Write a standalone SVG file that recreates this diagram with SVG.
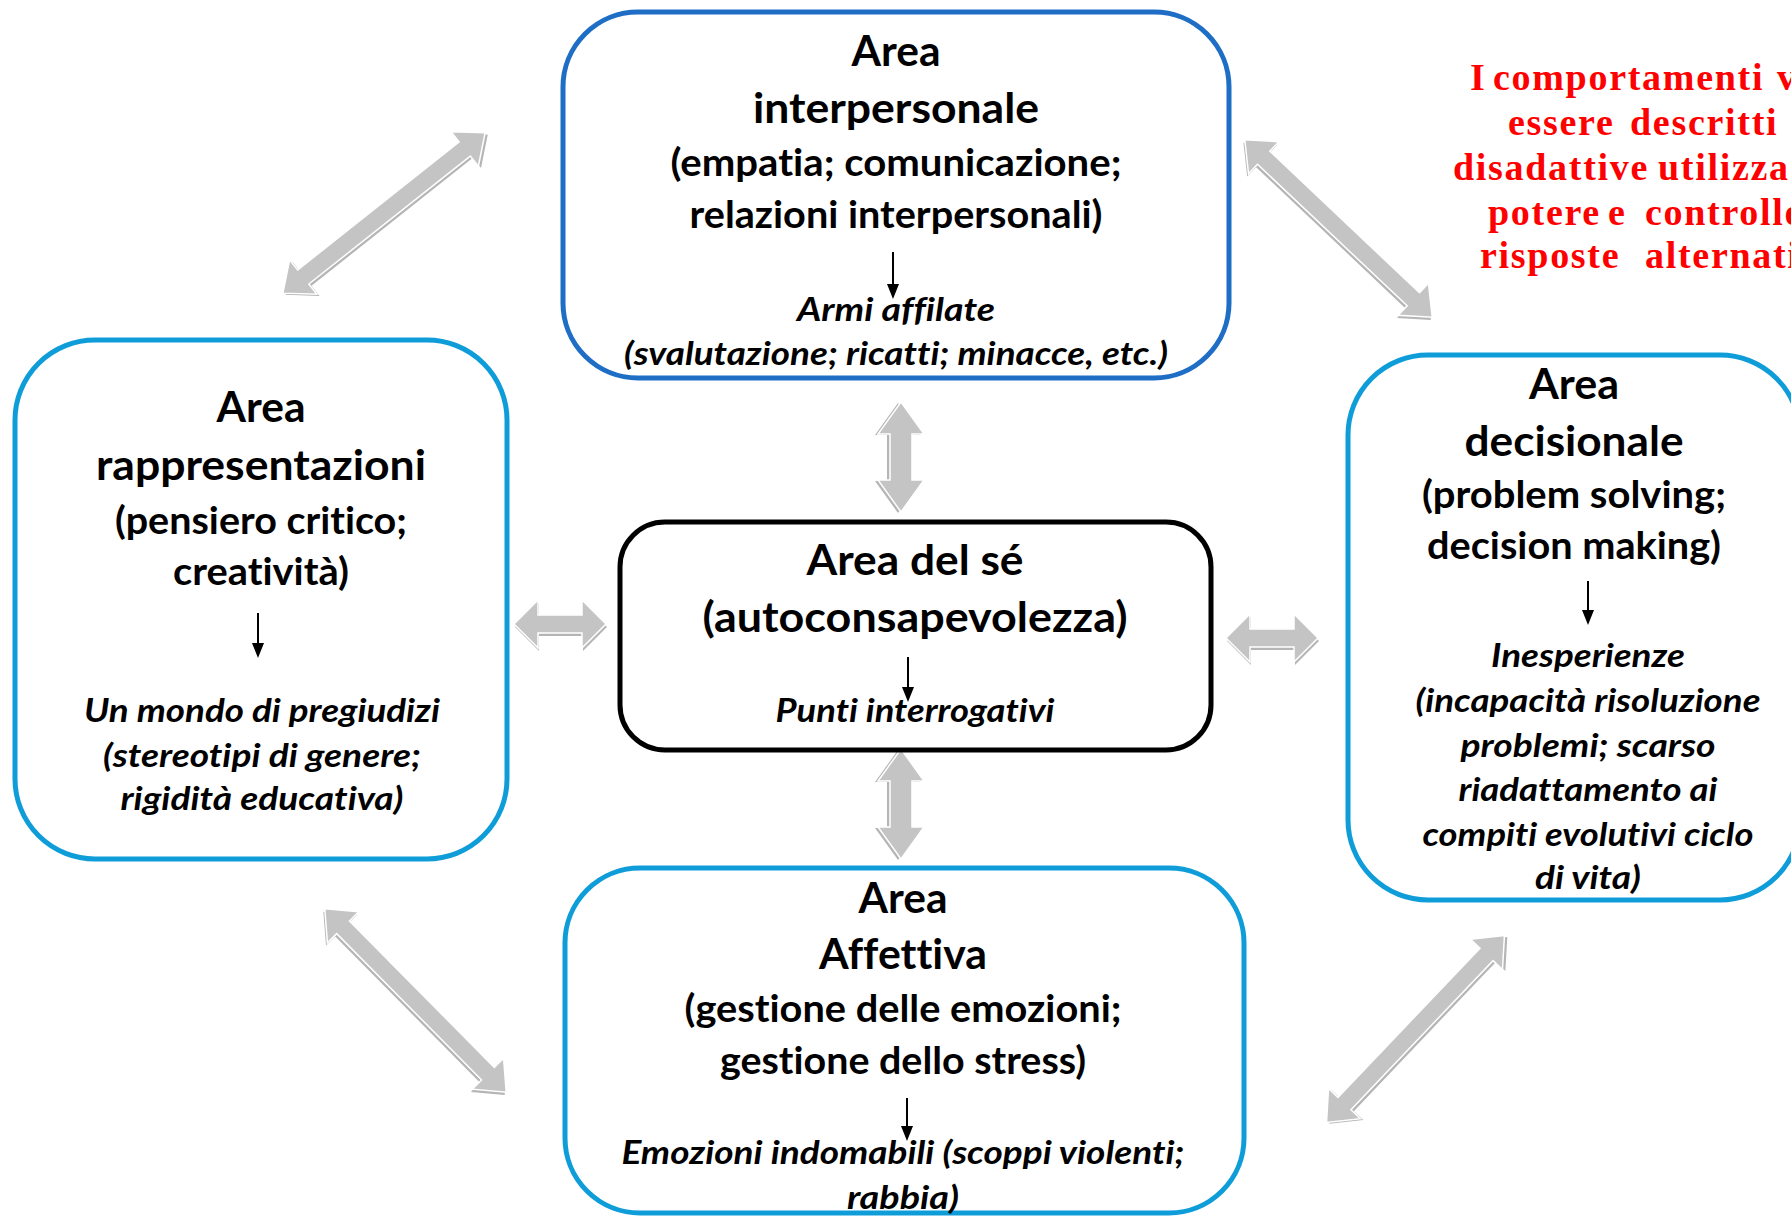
<svg xmlns="http://www.w3.org/2000/svg" xmlns:xlink="http://www.w3.org/1999/xlink" width="1791" height="1216" viewBox="0 0 1791 1216">
<style>
.box{fill:#fff;stroke-width:5}
.b1{stroke:#1e6ec6}
.b2{stroke:#0f9dd9}
.b3{stroke:#000}
text{font-family:Lato,"Open Sans","Liberation Sans",sans-serif;fill:#000;text-anchor:middle;font-variant-ligatures:none;font-feature-settings:"liga" 0,"dlig" 0}
.t{font-weight:bold;font-size:42px}
.s{font-weight:bold;font-size:38px}
.i{font-weight:bold;font-style:italic;font-size:32px}
.red{font-family:"Liberation Serif","Times New Roman",serif;font-weight:bold;font-size:38px;fill:#ff0000;text-anchor:start;letter-spacing:1.7px}
.ln{stroke:#000;stroke-width:2}
.hd{fill:#000}
.sh{fill:#b5b5b5}
.ar{fill:#c4c4c4;stroke:#ffffff;stroke-width:1.5}
</style>
<defs>
<path id="diag" d="M-129,0 L-103,-22 L-103,-9 L103,-9 L103,-22 L129,0 L103,22 L103,9 L-103,9 L-103,22 Z"/>
<path id="vert" d="M-55,0 L-23,-23 L-23,-11 L23,-11 L23,-23 L55,0 L23,23 L23,11 L-23,11 L-23,23 Z"/>
<path id="horz" d="M-46,0 L-22,-24 L-22,-9 L22,-9 L22,-24 L46,0 L22,24 L22,9 L-22,9 L-22,24 Z"/>
</defs>

<g id="connectors">
  <g transform="translate(384,213) rotate(-38.4)"><use href="#diag" class="sh" transform="translate(1,3)"/><use href="#diag" class="ar"/></g>
  <g transform="translate(1338.5,228.5) rotate(43.4)"><use href="#diag" class="sh" transform="translate(1,3)"/><use href="#diag" class="ar"/></g>
  <g transform="translate(415.5,1000.5) rotate(45.3)"><use href="#diag" class="sh" transform="translate(1,3)"/><use href="#diag" class="ar"/></g>
  <g transform="translate(1415.5,1029) rotate(-46.4)"><use href="#diag" class="sh" transform="translate(1,3)"/><use href="#diag" class="ar"/></g>
  <g transform="translate(901,457) rotate(90)"><use href="#vert" class="sh" transform="translate(1,3)"/><use href="#vert" class="ar"/></g>
  <g transform="translate(901,804) rotate(90)"><use href="#vert" class="sh" transform="translate(1,3)"/><use href="#vert" class="ar"/></g>
  <g transform="translate(560,624)"><use href="#horz" class="sh" transform="translate(1,3)"/><use href="#horz" class="ar"/></g>
  <g transform="translate(1272,638)"><use href="#horz" class="sh" transform="translate(1,3)"/><use href="#horz" class="ar"/></g>
</g>

<g id="node-interpersonale">
  <rect class="box b1" x="563" y="12" width="666" height="366" rx="75"/>
  <text class="t" x="896" y="66" textLength="89" lengthAdjust="spacingAndGlyphs">Area</text>
  <text class="t" x="896" y="123" textLength="286" lengthAdjust="spacingAndGlyphs">interpersonale</text>
  <text class="s" x="896" y="176" textLength="451" lengthAdjust="spacingAndGlyphs">(empatia; comunicazione;</text>
  <text class="s" x="896" y="228" textLength="413" lengthAdjust="spacingAndGlyphs">relazioni interpersonali)</text>
  <line class="ln" x1="893" y1="252" x2="893" y2="286"/><polygon class="hd" points="887,284 899,284 893,299"/>
  <text class="i" x="896" y="321" textLength="198" lengthAdjust="spacingAndGlyphs">Armi affilate</text>
  <text class="i" x="896" y="365" textLength="544" lengthAdjust="spacingAndGlyphs">(svalutazione; ricatti; minacce, etc.)</text>
</g>

<g id="node-rappresentazioni">
  <rect class="box b2" x="15" y="340" width="492" height="519" rx="80"/>
  <text class="t" x="261" y="422" textLength="89" lengthAdjust="spacingAndGlyphs">Area</text>
  <text class="t" x="261" y="480" textLength="330" lengthAdjust="spacingAndGlyphs">rappresentazioni</text>
  <text class="s" x="261" y="534" textLength="292" lengthAdjust="spacingAndGlyphs">(pensiero critico;</text>
  <text class="s" x="261" y="585" textLength="176" lengthAdjust="spacingAndGlyphs">creatività)</text>
  <line class="ln" x1="258" y1="613" x2="258" y2="645"/><polygon class="hd" points="252,643 264,643 258,658"/>
  <text class="i" x="262" y="722" textLength="356" lengthAdjust="spacingAndGlyphs">Un mondo di pregiudizi</text>
  <text class="i" x="262" y="767" textLength="318" lengthAdjust="spacingAndGlyphs">(stereotipi di genere;</text>
  <text class="i" x="262" y="810" textLength="283" lengthAdjust="spacingAndGlyphs">rigidità educativa)</text>
</g>

<g id="node-se">
  <rect class="box b3" x="620" y="522" width="591" height="228" rx="45"/>
  <text class="t" x="915" y="575" textLength="217" lengthAdjust="spacingAndGlyphs">Area del sé</text>
  <text class="t" x="915" y="632" textLength="425" lengthAdjust="spacingAndGlyphs">(autoconsapevolezza)</text>
  <line class="ln" x1="908" y1="657" x2="908" y2="689"/><polygon class="hd" points="902,687 914,687 908,702"/>
  <text class="i" x="915" y="722" textLength="279" lengthAdjust="spacingAndGlyphs">Punti interrogativi</text>
</g>

<g id="node-decisionale">
  <rect class="box b2" x="1348" y="355" width="452" height="545" rx="80"/>
  <text class="t" x="1574" y="399" textLength="90" lengthAdjust="spacingAndGlyphs">Area</text>
  <text class="t" x="1574" y="456" textLength="219" lengthAdjust="spacingAndGlyphs">decisionale</text>
  <text class="s" x="1574" y="508" textLength="304" lengthAdjust="spacingAndGlyphs">(problem solving;</text>
  <text class="s" x="1574" y="559" textLength="294" lengthAdjust="spacingAndGlyphs">decision making)</text>
  <line class="ln" x1="1588" y1="581" x2="1588" y2="612"/><polygon class="hd" points="1582,610 1594,610 1588,625"/>
  <text class="i" x="1588" y="667" textLength="194" lengthAdjust="spacingAndGlyphs">Inesperienze</text>
  <text class="i" x="1588" y="712" textLength="345" lengthAdjust="spacingAndGlyphs">(incapacità risoluzione</text>
  <text class="i" x="1588" y="757" textLength="255" lengthAdjust="spacingAndGlyphs">problemi; scarso</text>
  <text class="i" x="1588" y="801" textLength="259" lengthAdjust="spacingAndGlyphs">riadattamento ai</text>
  <text class="i" x="1588" y="846" textLength="331" lengthAdjust="spacingAndGlyphs">compiti evolutivi ciclo</text>
  <text class="i" x="1588" y="889" textLength="106" lengthAdjust="spacingAndGlyphs">di vita)</text>
</g>

<g id="node-affettiva">
  <rect class="box b2" x="565" y="868" width="679" height="345" rx="75"/>
  <text class="t" x="903" y="913" textLength="89" lengthAdjust="spacingAndGlyphs">Area</text>
  <text class="t" x="903" y="969" textLength="168" lengthAdjust="spacingAndGlyphs">Affettiva</text>
  <text class="s" x="903" y="1022" textLength="437" lengthAdjust="spacingAndGlyphs">(gestione delle emozioni;</text>
  <text class="s" x="903" y="1074" textLength="366" lengthAdjust="spacingAndGlyphs">gestione dello stress)</text>
  <line class="ln" x1="907" y1="1098" x2="907" y2="1128"/><polygon class="hd" points="901,1126 913,1126 907,1141"/>
  <text class="i" x="903" y="1164" textLength="563" lengthAdjust="spacingAndGlyphs">Emozioni indomabili (scoppi violenti;</text>
  <text class="i" x="903" y="1209" textLength="112" lengthAdjust="spacingAndGlyphs">rabbia)</text>
</g>

<g id="note">
  <text class="red" y="90"><tspan x="1470">I</tspan><tspan x="1493">comportamenti</tspan><tspan x="1777">v</tspan></text>
  <text class="red" y="135"><tspan x="1508">essere</tspan><tspan x="1630">descritti</tspan></text>
  <text class="red" y="180"><tspan x="1453">disadattive</tspan><tspan x="1658">utilizza</tspan></text>
  <text class="red" y="225"><tspan x="1488">potere</tspan><tspan x="1608">e</tspan><tspan x="1645">controllo</tspan></text>
  <text class="red" y="268"><tspan x="1480">risposte</tspan><tspan x="1645">alternati</tspan></text>
</g>
</svg>
